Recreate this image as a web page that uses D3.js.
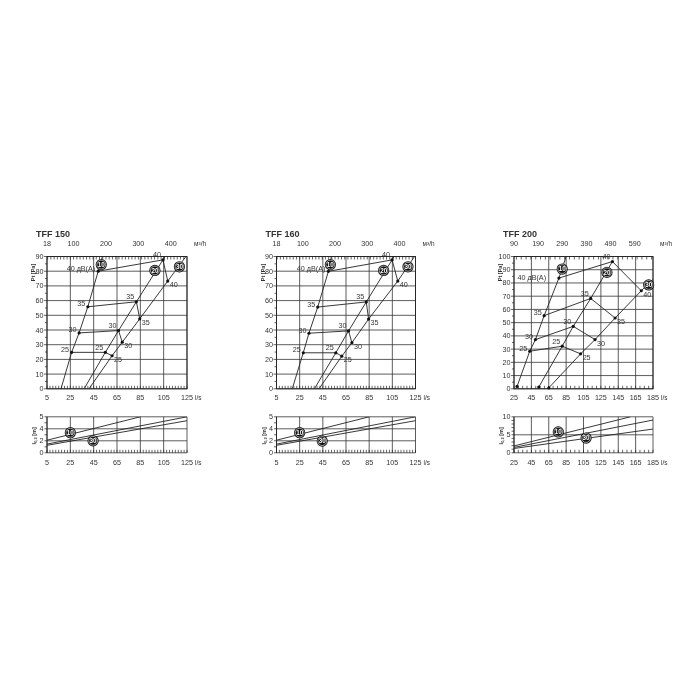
<!DOCTYPE html>
<html><head><meta charset="utf-8">
<script src="https://cdn.jsdelivr.net/npm/d3@7"></script>
<style>body{margin:0;background:#fff}svg{display:block;will-change:transform}text{font-family:"Liberation Sans",Arial,sans-serif;fill:#333}</style>
</head><body>
<script>
// ---------- DATA ----------
const titles = ["TFF 150", "TFF 160", "TFF 200"];
const fanSpeeds = ["10", "20", "30"];
const dbLevels = ["25", "30", "35", "40"];

const qTicks150 = [5, 25, 45, 65, 85, 105, 125];
const qTicks200 = [25, 45, 65, 85, 105, 125, 145, 165, 185];
const m3Ticks150 = [18, 100, 200, 300, 400];
const m3Ticks200 = [90, 190, 290, 390, 490, 590];
const pTicks90 = [0, 10, 20, 30, 40, 50, 60, 70, 80, 90];
const pTicks100 = [0, 10, 20, 30, 40, 50, 60, 70, 80, 90, 100];
// throw axis: gridlines at 0,2,4; the top edge of the small charts is labelled as printed
const lTicks5 = [0, 2, 4];
const lTop5 = "5";
const lTicks10 = [0, 5];
const lTop10 = "10";

// TFF 150 characteristic curves [l/s, Pa]; points 1..4 are 25/30/35/40 dB(A)
const tff150_line10 = [[17, 0], [26.1, 24.8], [32.5, 38], [40, 55.8], [48.9, 80], [52.5, 90]];
const tff150_line20 = [[36.8, 0], [55, 24.8], [66.3, 39.6], [81.6, 59.2], [104.4, 87.7], [106, 90]];
const tff150_line30 = [[41, 0], [60.8, 22.5], [69.5, 31.7], [84.5, 47.6], [108.5, 73.3], [125, 91]];
// TFF 160
const tff160_line10 = [[18.6, 0], [28.1, 24.5], [33, 37.8], [40.6, 55.6], [49.8, 79.9], [52.3, 90]];
const tff160_line20 = [[37.7, 0], [56.2, 24.5], [67.2, 39.4], [82.5, 59.1], [104.8, 87.7], [106.5, 90]];
const tff160_line30 = [[41.7, 0], [61.4, 22.2], [70.1, 31.4], [84.5, 47.4], [109.7, 73.3], [125, 91]];
// TFF 200
const tff200_line10 = [[28.5, 1.8], [43.1, 28.4], [49.7, 37.2], [59.7, 55.3], [76.7, 83.7], [85, 100]];
const tff200_line20 = [[53.5, 1.3], [80.5, 32.2], [93.2, 47.2], [113.3, 68.3], [138.3, 96.2]];
const tff200_line30 = [[65.1, 0.75], [101.7, 26.4], [118.3, 37.2], [141.4, 53.5], [171.5, 74.1], [186, 83.3]];

// throw distance l0,2 [m] vs l/s
const tff150_throw10 = [[5, 2.1], [85, 6]];
const tff150_throw20 = [[5, 1.45], [125, 6]];
const tff150_throw30 = [[5, 1.25], [125, 5.35]];
const tff160_throw10 = [[5, 2.1], [85, 6]];
const tff160_throw20 = [[5, 1.45], [125, 6]];
const tff160_throw30 = [[5, 1.25], [125, 5.35]];
const tff200_throw10 = [[25, 1.9], [159, 10]];
const tff200_throw20 = [[25, 1.5], [185, 9.1]];
const tff200_throw30 = [[25, 1.2], [185, 6.6]];

// badge positions [l/s, value]
const tff150_badges = [[51.5, 84.5], [97.5, 80.5], [118.5, 83]];
const tff160_badges = [[51.5, 84.5], [97.5, 80.5], [118.5, 83]];
const tff200_badges = [[80.5, 90.5], [132, 88], [180, 78.5]];
const tff150_throwBadges = [[25, 3.35], [44.5, 2.0]];
const tff160_throwBadges = [[25, 3.35], [44.5, 1.95]];
const tff200_throwBadges = [[76, 5.8], [108, 4.1]];

// ---------- LAYOUT ----------
const panels = [
  {title: titles[0], x0: 47, x1: 187, qd: [5, 125], qT: qTicks150, mT: m3Ticks150, pMax: 90, pT: pTicks90,
   lines: [tff150_line10, tff150_line20, tff150_line30], badges: tff150_badges, startDots: false, db40: "inline",
   lMax: 6, lT: lTicks5, lTop: lTop5, throws: [tff150_throw10, tff150_throw20, tff150_throw30], tb: tff150_throwBadges, tbL: ["10", "30"], minor: 2.5, mMinor: 10},
  {title: titles[1], x0: 276.5, x1: 415.5, qd: [5, 125], qT: qTicks150, mT: m3Ticks150, pMax: 90, pT: pTicks90,
   lines: [tff160_line10, tff160_line20, tff160_line30], badges: tff160_badges, startDots: false, db40: "inline",
   lMax: 6, lT: lTicks5, lTop: lTop5, throws: [tff160_throw10, tff160_throw20, tff160_throw30], tb: tff160_throwBadges, tbL: ["10", "30"], minor: 2.5, mMinor: 10},
  {title: titles[2], x0: 514, x1: 653, qd: [25, 185], qT: qTicks200, mT: m3Ticks200, pMax: 100, pT: pTicks100,
   lines: [tff200_line10, tff200_line20, tff200_line30], badges: tff200_badges, startDots: true, db40: "corner",
   lMax: 10, lT: lTicks10, lTop: lTop10, throws: [tff200_throw10, tff200_throw20, tff200_throw30], tb: tff200_throwBadges, tbL: ["10", "30"], minor: 5, mMinor: 20}
];

const svg = d3.select("body").append("svg").attr("width", 700).attr("height", 700);
const line = d3.line();
const FS = 7.2;

function badge(g, cx, cy, txt, r) {
  g.append("circle").attr("cx", cx).attr("cy", cy).attr("r", r).attr("fill", "#111");
  g.append("circle").attr("cx", cx).attr("cy", cy).attr("r", r - 1.2).attr("fill", "none").attr("stroke", "#fff").attr("stroke-width", 0.6);
  g.append("text").attr("x", cx).attr("y", cy + 2.3).attr("text-anchor", "middle")
    .style("font-size", "6.3px").style("font-weight", "bold").style("fill", "#fff").text(txt);
}

panels.forEach((P, pi) => {
  const g = svg.append("g");
  const x = d3.scaleLinear().domain(P.qd).range([P.x0, P.x1]);
  const y = d3.scaleLinear().domain([0, P.pMax]).range([388.8, 256.5]);
  const xm = d3.scaleLinear().domain([P.qd[0] * 3.6, P.qd[1] * 3.6]).range([P.x0, P.x1]);
  const clipId = "clip" + pi;
  g.append("clipPath").attr("id", clipId).append("rect")
    .attr("x", P.x0).attr("y", y(P.pMax)).attr("width", P.x1 - P.x0).attr("height", y(0) - y(P.pMax));

  P.pT.forEach(v => {
    g.append("line").attr("x1", P.x0).attr("x2", P.x1).attr("y1", y(v)).attr("y2", y(v))
      .attr("stroke", "#333").attr("stroke-width", 0.8);
  });
  P.qT.forEach(v => {
    g.append("line").attr("x1", x(v)).attr("x2", x(v)).attr("y1", y(0)).attr("y2", y(P.pMax))
      .attr("stroke", "#333").attr("stroke-width", 0.8);
  });
  g.append("rect").attr("x", P.x0).attr("y", y(P.pMax)).attr("width", P.x1 - P.x0).attr("height", y(0) - y(P.pMax))
    .attr("fill", "none").attr("stroke", "#222").attr("stroke-width", 0.9);
  d3.range(P.qd[0], P.qd[1] + 0.01, P.minor).forEach(v => {
    g.append("line").attr("x1", x(v)).attr("x2", x(v)).attr("y1", y(0)).attr("y2", y(0) - 3).attr("stroke", "#222").attr("stroke-width", 0.7);
  });
  d3.range(Math.ceil(P.qd[0] * 3.6 / P.mMinor) * P.mMinor, P.qd[1] * 3.6, P.mMinor).forEach(v => {
    g.append("line").attr("x1", xm(v)).attr("x2", xm(v)).attr("y1", y(P.pMax)).attr("y2", y(P.pMax) + 3).attr("stroke", "#222").attr("stroke-width", 0.7);
  });
  d3.range(0, P.pMax + 0.1, 5).forEach(v => {
    g.append("line").attr("x1", P.x0 - (v % 10 === 0 ? 3 : 2)).attr("x2", P.x0).attr("y1", y(v)).attr("y2", y(v)).attr("stroke", "#222").attr("stroke-width", 0.7);
  });
  P.pT.forEach(v => g.append("text").attr("x", P.x0 - 3.5).attr("y", y(v) + 2.5).attr("text-anchor", "end").style("font-size", FS + "px").text(v));
  P.qT.forEach(v => g.append("text").attr("x", x(v)).attr("y", 400).attr("text-anchor", "middle").style("font-size", FS + "px").text(v));
  g.append("text").attr("x", P.x1 + 8).attr("y", 400).style("font-size", "6.5px").text("l/s");
  P.mT.forEach(v => g.append("text").attr("x", xm(v)).attr("y", 246).attr("text-anchor", "middle").style("font-size", FS + "px").text(v));
  g.append("text").attr("x", P.x1 + 7).attr("y", 246).style("font-size", "6.5px").text("м³/h");
  g.append("text").attr("x", P.x0 - 11).attr("y", 237).style("font-size", "9px").style("font-weight", "bold").text(P.title);
  g.append("text").attr("transform", `translate(${P.x0 - 12},${y(P.pMax) + 16}) rotate(-90)`)
    .attr("text-anchor", "middle").style("font-size", "5.5px").style("font-weight", "bold").text("Pt [Pa]");

  const cg = g.append("g").attr("clip-path", `url(#${clipId})`);
  P.lines.forEach(L => {
    cg.append("path").attr("d", line(L.map(d => [x(d[0]), y(d[1])]))).attr("fill", "none").attr("stroke", "#222").attr("stroke-width", 0.9);
  });
  dbLevels.forEach((db, i) => {
    const pts = P.lines.map(L => L[i + 1]);
    g.append("path").attr("d", line(pts.map(d => [x(d[0]), y(d[1])]))).attr("fill", "none").attr("stroke", "#222").attr("stroke-width", 0.9);
    pts.forEach(d => g.append("circle").attr("cx", x(d[0])).attr("cy", y(d[1])).attr("r", 1.6).attr("fill", "#111"));
    const [a, b, c] = pts;
    if (i === 3 && P.db40 === "inline") {
      g.append("text").attr("x", x(a[0]) - 3).attr("y", y(a[1]) - 0.5).attr("text-anchor", "end").style("font-size", FS + "px").text(db + " дB(A)");
    } else if (!(i === 3 && P.db40 === "corner")) {
      g.append("text").attr("x", x(a[0]) - 2.5).attr("y", y(a[1]) - 0.5).attr("text-anchor", "end").style("font-size", FS + "px").text(db);
    }
    g.append("text").attr("x", x(b[0]) - 2).attr("y", y(b[1]) - 2.5).attr("text-anchor", "end").style("font-size", FS + "px").text(db);
    g.append("text").attr("x", x(c[0]) + 2).attr("y", y(c[1]) + 6).attr("text-anchor", "start").style("font-size", FS + "px").text(db);
  });
  if (P.db40 === "corner") {
    g.append("text").attr("x", x(P.qd[0]) + 3.5).attr("y", y(80) - 2.5).style("font-size", FS + "px").text(dbLevels[3] + " дB(A)");
  }
  if (P.startDots) {
    P.lines.forEach(L => g.append("circle").attr("cx", x(L[0][0])).attr("cy", y(L[0][1])).attr("r", 1.6).attr("fill", "#111"));
  }
  P.badges.forEach((d, i) => badge(g, x(d[0]), y(d[1]), fanSpeeds[i], 5.6));

  // ---- lower chart: throw ----
  const yl = d3.scaleLinear().domain([0, P.lMax]).range([452.8, 416.8]);
  const clip2 = "clipL" + pi;
  g.append("clipPath").attr("id", clip2).append("rect").attr("x", P.x0).attr("y", yl(P.lMax)).attr("width", P.x1 - P.x0).attr("height", yl(0) - yl(P.lMax));
  P.lT.concat([P.lMax]).forEach(v => g.append("line").attr("x1", P.x0).attr("x2", P.x1).attr("y1", yl(v)).attr("y2", yl(v)).attr("stroke", "#333").attr("stroke-width", 0.8));
  P.qT.forEach(v => g.append("line").attr("x1", x(v)).attr("x2", x(v)).attr("y1", yl(0)).attr("y2", yl(P.lMax)).attr("stroke", "#333").attr("stroke-width", 0.8));
  g.append("line").attr("x1", P.x0).attr("x2", P.x0).attr("y1", yl(0)).attr("y2", yl(P.lMax)).attr("stroke", "#222").attr("stroke-width", 0.9);
  d3.range(P.qd[0], P.qd[1] + 0.01, P.minor).forEach(v => {
    g.append("line").attr("x1", x(v)).attr("x2", x(v)).attr("y1", yl(0)).attr("y2", yl(0) - 3).attr("stroke", "#222").attr("stroke-width", 0.7);
  });
  d3.range(0, P.lMax + 0.01, 1).forEach(v => {
    g.append("line").attr("x1", P.x0 - 2.5).attr("x2", P.x0).attr("y1", yl(v)).attr("y2", yl(v)).attr("stroke", "#222").attr("stroke-width", 0.7);
  });
  P.lT.forEach(v => g.append("text").attr("x", P.x0 - 3.5).attr("y", yl(v) + 2.5).attr("text-anchor", "end").style("font-size", FS + "px").text(v));
  g.append("text").attr("x", P.x0 - 3.5).attr("y", yl(P.lMax) + 2.5).attr("text-anchor", "end").style("font-size", FS + "px").text(P.lTop);
  P.qT.forEach(v => g.append("text").attr("x", x(v)).attr("y", 465).attr("text-anchor", "middle").style("font-size", FS + "px").text(v));
  g.append("text").attr("x", P.x1 + 8).attr("y", 465).style("font-size", "6.5px").text("l/s");
  const yt = g.append("text").attr("transform", `translate(${P.x0 - 11},${yl(P.lMax / 2) + 1}) rotate(-90)`)
    .attr("text-anchor", "middle").style("font-size", "5.5px").style("font-weight", "bold");
  yt.append("tspan").text("l");
  yt.append("tspan").attr("dy", 1.2).style("font-size", "4px").text("0,2");
  yt.append("tspan").attr("dy", -1.2).text(" [m]");
  const lg = g.append("g").attr("clip-path", `url(#${clip2})`);
  P.throws.forEach(L => lg.append("path").attr("d", line(L.map(d => [x(d[0]), yl(d[1])]))).attr("fill", "none").attr("stroke", "#222").attr("stroke-width", 0.9));
  P.tb.forEach((d, i) => badge(g, x(d[0]), yl(d[1]), P.tbL[i], 5.6));
});
</script>
</body></html>
